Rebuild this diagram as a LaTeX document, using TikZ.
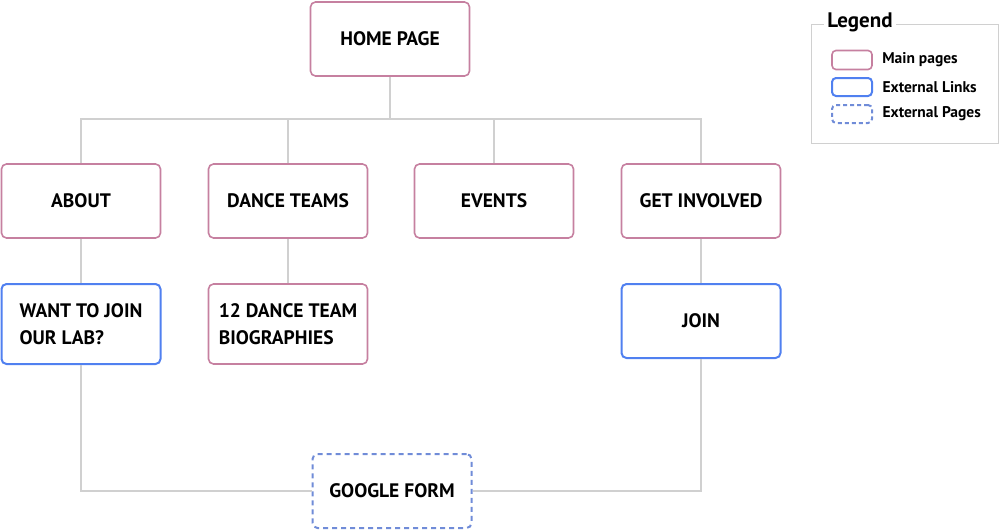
\documentclass[tikz,border=0pt]{standalone}
\usepackage{fontspec}
\setmainfont{PT Sans}
\definecolor{pagepink}{RGB}{198,128,160}
\definecolor{linkblue}{RGB}{80,128,240}
\definecolor{extblue}{RGB}{112,140,216}
\definecolor{wiregray}{RGB}{208,208,208}
\usepackage{tikz}
\usetikzlibrary{positioning}

\begin{document}
\begin{tikzpicture}[x=1pt, y=-1pt,
    every node/.style={font=\fontsize{19.5}{27}\selectfont\bfseries, align=left},
    mainpage/.style={draw=pagepink, line width=1.6pt, rounded corners=5pt, fill=white, minimum width=159pt, minimum height=74pt},
    extlink/.style={mainpage, draw=linkblue, line width=2pt},
    extpage/.style={mainpage, draw=extblue, dashed, dash pattern=on 5pt off 4pt, line width=2pt},
    wire/.style={draw=wiregray, line width=1.5pt}]
        \useasboundingbox (0,0) rectangle (1000,530);
        % Top level
        \node[mainpage] (home) at (390,39) {HOME PAGE};
        % Second row
        \node[mainpage] (about) at (81,201) {ABOUT};
        \node[mainpage] (teams) at (288,201) {DANCE TEAMS};
        \node[mainpage] (events) at (494,201) {EVENTS};
        \node[mainpage] (involved) at (701,201) {GET INVOLVED};
        % Third row
        \node[extlink, minimum height=80pt] (joinlab) at (81,324) {WANT TO JOIN\\OUR LAB?};
        \node[mainpage, minimum height=80pt] (bios) at (288,324) {12 DANCE TEAM\\BIOGRAPHIES};
        \node[extlink] (join) at (701,321) {JOIN};
        % Bottom
        \node[extpage] (form) at (392,491) {GOOGLE FORM};
        % Connectors
        \coordinate (split) at (390,119);
        \draw[wire] (home.south) -- (split);
        \draw[wire] (about.north) |- (split) -| (involved.north);
        \draw[wire] (teams.north) -- (teams.north |- split);
        \draw[wire] (events.north) -- (events.north |- split);
        \draw[wire] (about.south) -- (joinlab.north);
        \draw[wire] (teams.south) -- (bios.north);
        \draw[wire] (involved.south) -- (join.north);
        \draw[wire] (joinlab.south) |- (form.west);
        \draw[wire] (join.south) |- (form.east);
        % Legend
        \draw[wire, line width=1pt] (811,24) rectangle (998,143);
        \node[fill=white, inner sep=3pt, font=\fontsize{21}{24}\selectfont\bfseries] (legtitle) at (860,22) {Legend};
        \node[mainpage, minimum width=40pt, minimum height=19pt, rounded corners=4pt] (keymain) at (852,60) {};
        \node[extlink, minimum width=40pt, minimum height=18pt, rounded corners=4pt] (keylink) at (852,87) {};
        \node[extpage, minimum width=40pt, minimum height=18pt, rounded corners=4pt, dash pattern=on 4pt off 3pt] (keyext) at (852,114) {};
        \node[right=6pt of keymain, font=\fontsize{15.5}{18}\selectfont\bfseries] (txtmain) {Main pages};
        \node[right=6pt of keylink, font=\fontsize{15.5}{18}\selectfont\bfseries] (txtlink) {External Links};
        \node[right=6pt of keyext, font=\fontsize{15.5}{18}\selectfont\bfseries] (txtext) {External Pages};
      \end{tikzpicture}
\end{document}
